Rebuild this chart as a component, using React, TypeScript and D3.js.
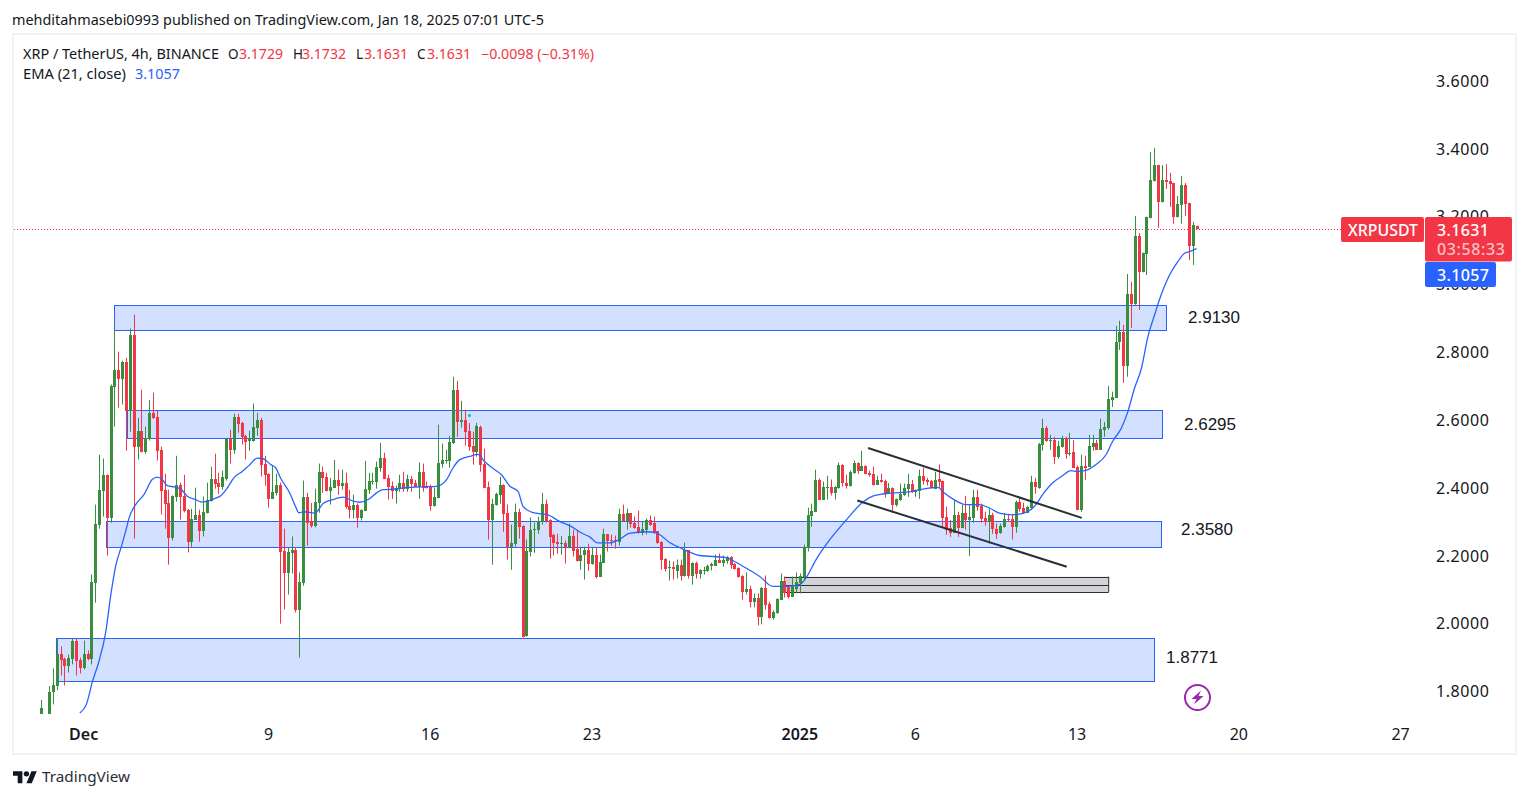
import React from 'react';
import * as d3 from 'd3';

// [open, high, low, close] per 4h bar
const barsLateNov = [
  [1.70,1.775,1.68,1.75],[1.70,1.73,1.68,1.72],[1.72,1.816,1.70,1.80],[1.798,1.868,1.762,1.818],[1.816,1.958,1.804,1.912],
  [1.912,1.933,1.847,1.894],[1.897,1.90,1.818,1.874],[1.874,1.909,1.856,1.90],[1.897,1.956,1.88,1.95],[1.95,1.956,1.847,1.889],
  [1.892,1.90,1.853,1.868],[1.868,1.95,1.865,1.912],[1.912,1.921,1.892,1.897],[1.897,2.145,1.88,2.124],[2.121,2.351,2.062,2.295],
  [2.292,2.498,2.28,2.395],[2.392,2.487,2.316,2.439],[2.439,2.44,2.201,2.313],[2.313,2.705,2.298,2.702],[2.699,2.87,2.581,2.749],
  [2.749,2.802,2.637,2.722],[2.722,2.775,2.646,2.772],[2.772,2.784,2.51,2.628],[2.628,2.87,2.566,2.852],[2.852,2.911,2.251,2.522],
  [2.522,2.607,2.484,2.569],[2.569,2.69,2.505,2.507],[2.507,2.581,2.501,2.547],[2.543,2.66,2.54,2.622],[2.622,2.681,2.604,2.607],
];
const barsDecA = [
  [2.61,2.628,2.481,2.51],[2.513,2.522,2.322,2.392],[2.395,2.442,2.28,2.354],[2.357,2.395,2.174,2.254],[2.254,2.378,2.245,2.375],
  [2.372,2.495,2.36,2.41],[2.41,2.416,2.307,2.372],[2.375,2.439,2.328,2.333],[2.336,2.338,2.21,2.242],[2.242,2.339,2.227,2.31],
  [2.307,2.401,2.306,2.319],[2.319,2.336,2.242,2.272],[2.272,2.375,2.257,2.33],[2.327,2.416,2.325,2.366],[2.363,2.463,2.36,2.428],
  [2.428,2.501,2.398,2.413],[2.416,2.445,2.383,2.404],[2.404,2.451,2.395,2.431],[2.428,2.548,2.422,2.543],[2.543,2.572,2.472,2.513],
  [2.513,2.619,2.501,2.61],[2.61,2.619,2.563,2.59],[2.593,2.595,2.528,2.551],[2.554,2.557,2.484,2.537],[2.54,2.569,2.51,2.543],
  [2.54,2.649,2.537,2.581],[2.578,2.622,2.554,2.601],[2.601,2.607,2.434,2.469],[2.472,2.495,2.407,2.439],[2.442,2.443,2.342,2.369],
  [2.369,2.466,2.368,2.389],[2.386,2.442,2.378,2.41],[2.41,2.416,2.0,2.21],[2.213,2.28,2.042,2.148],[2.148,2.224,2.086,2.21],
  [2.207,2.257,2.148,2.218],[2.218,2.224,2.033,2.039],[2.039,2.151,1.90,2.124],[2.121,2.422,2.112,2.372],[2.372,2.386,2.23,2.298],
  [2.303,2.356,2.283,2.287],[2.287,2.398,2.284,2.36],
];
const barsDecB = [
  [2.356,2.472,2.327,2.448],[2.448,2.463,2.386,2.43],[2.433,2.445,2.39,2.392],[2.392,2.43,2.351,2.404],[2.401,2.483,2.40,2.424],
  [2.424,2.454,2.38,2.407],[2.407,2.454,2.395,2.416],[2.416,2.445,2.339,2.345],[2.348,2.395,2.31,2.336],[2.336,2.38,2.31,2.351],
  [2.351,2.354,2.283,2.313],[2.313,2.337,2.304,2.336],[2.333,2.48,2.332,2.398],[2.395,2.445,2.383,2.422],[2.419,2.445,2.41,2.422],
  [2.419,2.478,2.398,2.463],[2.46,2.533,2.448,2.489],[2.489,2.504,2.426,2.427],[2.43,2.439,2.366,2.404],[2.407,2.419,2.368,2.392],
  [2.392,2.407,2.354,2.401],[2.398,2.439,2.389,2.416],[2.416,2.448,2.389,2.398],[2.398,2.439,2.389,2.427],[2.427,2.436,2.389,2.413],
  [2.416,2.424,2.403,2.404],[2.404,2.475,2.368,2.448],[2.448,2.472,2.389,2.401],[2.407,2.419,2.398,2.401],[2.404,2.41,2.333,2.348],
  [2.348,2.401,2.345,2.374],[2.371,2.587,2.37,2.475],[2.472,2.531,2.46,2.483],[2.48,2.513,2.472,2.483],[2.48,2.554,2.46,2.536],
  [2.533,2.728,2.53,2.69],[2.69,2.716,2.551,2.595],[2.595,2.657,2.578,2.601],[2.601,2.631,2.525,2.566],[2.569,2.592,2.51,2.522],
  [2.525,2.566,2.469,2.507],[2.507,2.592,2.492,2.584],
];
const barsDecC = [
  [2.581,2.584,2.448,2.469],[2.472,2.516,2.40,2.401],[2.404,2.419,2.248,2.307],[2.307,2.368,2.174,2.354],[2.351,2.386,2.348,2.383],
  [2.38,2.433,2.354,2.41],[2.41,2.411,2.271,2.324],[2.327,2.351,2.189,2.227],[2.227,2.292,2.159,2.239],[2.236,2.354,2.227,2.33],
  [2.33,2.339,2.251,2.286],[2.289,2.29,1.959,1.962],[1.965,2.248,1.962,2.215],[2.212,2.313,2.198,2.277],[2.277,2.298,2.209,2.28],
  [2.277,2.315,2.265,2.304],[2.301,2.386,2.292,2.354],[2.354,2.366,2.298,2.304],[2.307,2.308,2.192,2.257],[2.26,2.265,2.201,2.239],
  [2.242,2.265,2.206,2.236],[2.236,2.259,2.203,2.239],[2.239,2.245,2.177,2.227],[2.227,2.295,2.226,2.259],[2.259,2.277,2.198,2.215],
  [2.221,2.277,2.183,2.186],[2.186,2.227,2.159,2.203],[2.201,2.227,2.13,2.218],[2.218,2.236,2.156,2.177],[2.177,2.227,2.174,2.201],
  [2.201,2.224,2.133,2.139],[2.139,2.204,2.138,2.183],[2.18,2.28,2.179,2.263],[2.263,2.264,2.213,2.245],[2.248,2.263,2.23,2.245],
  [2.248,2.26,2.221,2.245],[2.242,2.339,2.23,2.322],[2.322,2.351,2.303,2.304],[2.304,2.339,2.277,2.325],[2.325,2.326,2.283,2.295],
  [2.298,2.316,2.28,2.283],[2.286,2.333,2.265,2.266],[2.266,2.301,2.26,2.28],[2.277,2.31,2.263,2.307],[2.307,2.319,2.289,2.292],
  [2.298,2.316,2.266,2.269],[2.272,2.273,2.236,2.239],[2.242,2.243,2.16,2.189],
];
const barsDecD = [
  [2.192,2.193,2.154,2.162],[2.165,2.186,2.127,2.168],[2.168,2.183,2.13,2.16],[2.154,2.189,2.133,2.174],[2.174,2.189,2.127,2.142],
  [2.142,2.239,2.139,2.216],[2.216,2.217,2.133,2.142],[2.142,2.181,2.115,2.18],[2.18,2.183,2.133,2.145],[2.145,2.16,2.133,2.157],
  [2.154,2.168,2.145,2.157],[2.154,2.174,2.153,2.171],[2.171,2.18,2.157,2.177],[2.171,2.204,2.17,2.189],[2.189,2.207,2.179,2.18],
  [2.18,2.201,2.168,2.189],[2.186,2.199,2.177,2.198],[2.198,2.199,2.162,2.174],[2.177,2.178,2.16,2.162],[2.165,2.166,2.136,2.139],
  [2.142,2.143,2.071,2.092],[2.092,2.151,2.086,2.101],[2.101,2.112,2.048,2.065],[2.065,2.089,2.048,2.077],[2.077,2.09,1.995,2.021],
  [2.021,2.108,1.998,2.104],[2.104,2.142,2.042,2.056],[2.059,2.065,2.015,2.018],[2.018,2.039,2.012,2.033],[2.03,2.075,2.029,2.074],
  [2.071,2.148,2.07,2.127],[2.127,2.139,2.077,2.089],[2.107,2.112,2.074,2.08],[2.08,2.139,2.079,2.112],[2.101,2.151,2.089,2.124],
  [2.121,2.148,2.089,2.142],[2.139,2.233,2.13,2.227],
];
const barsJanA = [
  [2.224,2.342,2.213,2.319],[2.316,2.354,2.286,2.333],[2.33,2.454,2.329,2.425],[2.425,2.428,2.365,2.366],[2.366,2.419,2.365,2.404],
  [2.401,2.436,2.366,2.404],[2.404,2.425,2.378,2.386],[2.386,2.405,2.366,2.404],[2.401,2.475,2.398,2.469],[2.469,2.47,2.404,2.416],
  [2.416,2.439,2.398,2.407],[2.407,2.451,2.404,2.448],[2.445,2.481,2.442,2.475],[2.475,2.476,2.442,2.451],[2.451,2.51,2.45,2.466],
  [2.466,2.467,2.441,2.442],[2.445,2.451,2.433,2.439],[2.442,2.463,2.407,2.41],[2.41,2.436,2.409,2.425],[2.425,2.442,2.416,2.419],
  [2.422,2.425,2.372,2.386],[2.386,2.415,2.383,2.401],[2.401,2.402,2.327,2.351],[2.351,2.369,2.345,2.368],[2.365,2.413,2.362,2.383],
  [2.38,2.413,2.377,2.401],[2.398,2.442,2.374,2.413],[2.413,2.424,2.386,2.389],[2.389,2.396,2.374,2.395],[2.392,2.454,2.368,2.436],
  [2.436,2.46,2.41,2.421],[2.424,2.43,2.407,2.418],[2.421,2.424,2.398,2.401],[2.398,2.448,2.397,2.424],[2.427,2.469,2.401,2.418],
  [2.421,2.422,2.283,2.312],[2.315,2.345,2.262,2.277],[2.283,2.306,2.256,2.268],[2.268,2.365,2.267,2.321],[2.321,2.33,2.256,2.283],
];
const barsJanB = [
  [2.283,2.351,2.282,2.327],[2.327,2.377,2.277,2.306],[2.306,2.35,2.20,2.315],[2.312,2.395,2.298,2.374],[2.374,2.395,2.333,2.345],
  [2.348,2.354,2.298,2.309],[2.312,2.33,2.289,2.301],[2.301,2.339,2.236,2.321],[2.321,2.327,2.265,2.28],[2.28,2.295,2.25,2.265],
  [2.268,2.295,2.265,2.289],[2.286,2.327,2.283,2.309],[2.309,2.324,2.301,2.306],[2.309,2.324,2.248,2.286],[2.286,2.363,2.268,2.36],
  [2.36,2.371,2.33,2.339],[2.342,2.357,2.324,2.327],[2.327,2.346,2.326,2.345],[2.342,2.436,2.336,2.418],[2.418,2.43,2.383,2.404],
  [2.401,2.533,2.398,2.53],[2.527,2.604,2.51,2.578],[2.578,2.583,2.536,2.539],[2.539,2.557,2.513,2.542],[2.542,2.551,2.471,2.492],
  [2.492,2.539,2.486,2.524],[2.522,2.554,2.519,2.548],[2.548,2.551,2.486,2.501],[2.501,2.563,2.495,2.504],[2.507,2.542,2.459,2.46],
  [2.463,2.466,2.335,2.336],[2.336,2.498,2.33,2.466],[2.466,2.495,2.424,2.46],[2.463,2.557,2.462,2.524],[2.522,2.557,2.51,2.533],
  [2.533,2.542,2.512,2.513],[2.513,2.604,2.512,2.575],[2.572,2.595,2.551,2.58],
];
const barsJanC = [
  [2.578,2.701,2.572,2.663],[2.66,2.684,2.639,2.669],[2.666,2.878,2.665,2.831],[2.831,2.893,2.807,2.86],[2.86,2.881,2.71,2.76],
  [2.76,3.031,2.728,2.972],[2.972,3.008,2.872,2.943],[2.943,3.202,2.94,3.143],[3.143,3.152,2.925,3.037],[3.037,3.094,3.036,3.093],
  [3.09,3.20,3.028,3.199],[3.196,3.391,3.195,3.308],[3.305,3.402,3.304,3.352],[3.352,3.353,3.167,3.243],[3.243,3.352,3.242,3.308],
  [3.308,3.355,3.282,3.302],[3.305,3.329,3.229,3.296],[3.299,3.30,3.179,3.199],[3.199,3.261,3.198,3.237],[3.234,3.32,3.179,3.293],
  [3.293,3.299,3.202,3.237],[3.24,3.241,3.072,3.114],[3.114,3.185,3.058,3.176],[3.1729,3.1732,3.1631,3.1631],
];
const bars = [...barsLateNov, ...barsDecA, ...barsDecB, ...barsDecC, ...barsDecD, ...barsJanA, ...barsJanB, ...barsJanC];

// EMA 21: bar position and value
const emaBarsA = [11,12.8,14.2,16,17.7,19,20.3,21.8,22.9,23.8,25.5,27.7,29.8,31.1,32.4,33.7,35.5,37.2,38.9,41.1,42.4,43.7,45.8,47.7,49.3,51,53.2,54.9,57.1,58.4,60.6,61.9,63.1,65.7,67,67.9,69.2,72];
const emaValsA = [1.737,1.765,1.826,1.89,1.973,2.081,2.169,2.228,2.272,2.312,2.351,2.381,2.425,2.432,2.425,2.407,2.403,2.397,2.376,2.366,2.359,2.36,2.368,2.378,2.40,2.43,2.449,2.466,2.488,2.487,2.469,2.459,2.43,2.381,2.346,2.327,2.33,2.326];
const emaBarsB = [74.2,76.8,79.4,82,83.7,85.9,88,89.7,92.8,96.7,101,103.6,106.2,107.9,109.6,112.2,114.4,116.1,118.8,120.5,122.7,124.8,126.1,128.3,130.5,132.6,135.2,138.2,141.7,143.4,145.5,148.5];
const emaValsB = [2.354,2.366,2.373,2.361,2.358,2.366,2.385,2.395,2.397,2.402,2.404,2.405,2.424,2.459,2.483,2.493,2.499,2.478,2.454,2.439,2.405,2.39,2.346,2.329,2.324,2.321,2.304,2.289,2.265,2.256,2.238,2.238];
const emaBarsC = [151.1,153.7,158,160.7,164.1,167.6,171.9,178.8,181.4,184,187.5,191,194.4,197.9,199.6,202.2,204.8,210,214.3,216.9,219.9,224.7,227.3,229.9,233.8,235.5,238.1,241.1,244.6,247.2,249.8,253.2,256.7,259.3,261,263.6,266.2,268.4,270.1,272.3,274.9,277.5,279.2,281.5,283.2,284.9,286.7,288.4,290.1,291.8,294,296.2,297.9,299.2,301];
const emaValsC = [2.248,2.266,2.271,2.268,2.24,2.22,2.201,2.195,2.181,2.164,2.14,2.11,2.11,2.115,2.135,2.189,2.233,2.305,2.358,2.376,2.383,2.387,2.39,2.397,2.402,2.385,2.365,2.351,2.351,2.341,2.326,2.321,2.328,2.351,2.38,2.415,2.436,2.451,2.449,2.452,2.469,2.498,2.537,2.577,2.626,2.694,2.753,2.847,2.91,2.969,3.028,3.068,3.092,3.097,3.1057];
const emaBars = [...emaBarsA, ...emaBarsB, ...emaBarsC];
const emaVals = [...emaValsA, ...emaValsB, ...emaValsC];

const priceTicks = [3.6, 3.4, 3.2, 3.0, 2.8, 2.6, 2.4, 2.2, 2.0, 1.8];
const timeLabels = ['Dec', '9', '16', '23', '2025', '6', '13', '20', '27'];
const timeBars = [12, 60, 102, 144, 198, 228, 270, 312, 354];

// drawn zones: from bar, to bar, top price, bottom price
const zoneStart = [20, 23.2, 17.9, 4.9];
const zoneEnd = [293.3, 292, 292, 290.1];
const zoneTop = [2.94, 2.63, 2.304, 1.958];
const zoneBottom = [2.866, 2.548, 2.226, 1.831];
const zoneNotes = ['2.9130', '2.6295', '2.3580', '1.8771'];

const greyBox = { from: 193.9, to: 278.2, top: 2.1386, mid: 2.1142, bottom: 2.0935 };
const channelUpper = [[215.7, 2.518], [271.2, 2.312]];
const channelLower = [[212.9, 2.363], [267.3, 2.168]];

const RED = '#f23645';
const GREEN = '#388e3c';
const BLUE = '#2962ff';
const INK = '#131722';
const UI_FONT = "'Noto Sans', sans-serif";
const AXIS_FONT = "'Noto Sans', sans-serif";

const x = d3.scaleLinear().domain([1, 301]).range([41.3, 1196.5]);
const y = d3.scaleLinear().domain([1.8, 3.6]).range([691.5, 81]);

const emaLine = d3.line<number>()
  .x((d) => x(d))
  .y((_, i) => y(emaVals[i]))
  .curve(d3.curveMonotoneX);

const segment = (pts: number[][]) => d3.line().x((d) => x(d[0])).y((d) => y(d[1]))(pts as [number, number][]) as string;

function Candles() {
  return (
    <g>
      {bars.map((b, i) => {
        const [o, h, l, c] = b;
        const cx = Math.round(x(i + 1));
        const col = c >= o ? GREEN : RED;
        const top = Math.round(y(Math.max(o, c)));
        const bot = Math.round(y(Math.min(o, c)));
        return (
          <g key={i} fill={col}>
            <rect x={cx} y={y(h)} width={1} height={y(l) - y(h)} />
            <rect x={cx - 1} y={top} width={3} height={Math.max(1, bot - top)} />
          </g>
        );
      })}
    </g>
  );
}

function Zones() {
  return (
    <g>
      {zoneStart.map((s, i) => (
        <rect
          key={i}
          x={Math.round(x(s)) + 0.5}
          y={Math.round(y(zoneTop[i])) + 0.5}
          width={Math.round(x(zoneEnd[i]) - x(s))}
          height={Math.round(y(zoneBottom[i]) - y(zoneTop[i]))}
          fill={BLUE}
          fillOpacity={0.2}
          stroke={BLUE}
          strokeWidth={1}
        />
      ))}
    </g>
  );
}

function GreyBox() {
  const x0 = x(greyBox.from);
  const x1 = x(greyBox.to);
  return (
    <g stroke="#2a2e39" strokeWidth={1}>
      <rect x={x0} y={y(greyBox.top)} width={x1 - x0} height={y(greyBox.bottom) - y(greyBox.top)} fill="#d3d3d5" stroke="none" />
      {[greyBox.top, greyBox.mid, greyBox.bottom].map((p) => (
        <line key={p} x1={x0} x2={x1} y1={Math.round(y(p)) + 0.5} y2={Math.round(y(p)) + 0.5} />
      ))}
      <line x1={x1} x2={x1} y1={y(greyBox.top)} y2={y(greyBox.bottom)} />
    </g>
  );
}

function Header() {
  const t = { fontFamily: UI_FONT, fontSize: 13.5 };
  return (
    <g style={t}>
      <text x={12} y={25} fill={INK} textLength={532} lengthAdjust="spacingAndGlyphs">
        mehditahmasebi0993 published on TradingView.com, Jan 18, 2025 07:01 UTC-5
      </text>
      <text x={23} y={59} fill={INK} textLength={196} lengthAdjust="spacingAndGlyphs">XRP / TetherUS, 4h, BINANCE</text>
      <text x={228} y={59} fill={INK}>O</text>
      <text x={239} y={59} fill={RED} textLength={44} lengthAdjust="spacingAndGlyphs">3.1729</text>
      <text x={293} y={59} fill={INK}>H</text>
      <text x={302} y={59} fill={RED} textLength={44} lengthAdjust="spacingAndGlyphs">3.1732</text>
      <text x={356} y={59} fill={INK}>L</text>
      <text x={364} y={59} fill={RED} textLength={44} lengthAdjust="spacingAndGlyphs">3.1631</text>
      <text x={417} y={59} fill={INK}>C</text>
      <text x={427} y={59} fill={RED} textLength={44} lengthAdjust="spacingAndGlyphs">3.1631</text>
      <text x={481} y={59} fill={RED} textLength={113} lengthAdjust="spacingAndGlyphs">−0.0098 (−0.31%)</text>
      <text x={23} y={79} fill={INK} textLength={103} lengthAdjust="spacingAndGlyphs">EMA (21, close)</text>
      <text x={135} y={79} fill={BLUE} textLength={45} lengthAdjust="spacingAndGlyphs">3.1057</text>
    </g>
  );
}

function PriceTags() {
  const t = { fontFamily: AXIS_FONT, fontSize: 16, fontWeight: 500 };
  return (
    <g style={t}>
      <rect x={1341} y={217} width={83} height={25} rx={2} fill={RED} />
      <text x={1348} y={235.5} fill="#fff" textLength={70} lengthAdjust="spacingAndGlyphs">XRPUSDT</text>
      <rect x={1425} y={217} width={87} height={44.5} rx={2} fill={RED} />
      <text x={1437} y={235.5} fill="#fff" textLength={52} lengthAdjust="spacing">3.1631</text>
      <text x={1437} y={255} fill="#fff" fillOpacity={0.7} textLength={68} lengthAdjust="spacing">03:58:33</text>
      <rect x={1425} y={262} width={71} height={25} rx={2} fill={BLUE} />
      <text x={1437} y={280.5} fill="#fff" textLength={52} lengthAdjust="spacing">3.1057</text>
    </g>
  );
}

function Logo() {
  return (
    <g>
      <g transform="translate(13 768.5) scale(0.67)" fill={INK}>
        <path d="M14 22H7V11H0V4h14v18zM28 22h-8l7.5-18h8L28 22z" />
        <circle cx="20" cy="8" r="4" />
      </g>
      <text x={42} y={782} fill="#2a2e39" style={{ fontFamily: UI_FONT, fontSize: 15 }} textLength={88} lengthAdjust="spacingAndGlyphs">TradingView</text>
    </g>
  );
}

export default function App() {
  const noteX = [1188, 1184, 1181, 1166];
  const noteY = [317, 424, 529, 657];
  return (
    <svg width={1529} height={798} style={{ position: 'absolute', left: 0, top: 0, background: '#fff' }}>
      <defs>
        <clipPath id="pane">
          <rect x={14} y={35} width={1501} height={679} />
        </clipPath>
      </defs>
      <rect x={13} y={34} width={1503} height={720} fill="#fff" stroke="#f0f3fa" strokeWidth={2} />
      <Header />

      {priceTicks.map((p) => (
        <text key={p} x={1436} y={y(p)} dy="0.36em" fill={INK} textLength={53} lengthAdjust="spacing" style={{ fontFamily: AXIS_FONT, fontSize: 16 }}>
          {d3.format('.4f')(p)}
        </text>
      ))}
      {timeLabels.map((lab, i) => (
        <text
          key={lab}
          x={x(timeBars[i])}
          y={739.5}
          textAnchor="middle"
          fill={INK}
          style={{ fontFamily: AXIS_FONT, fontSize: 16, fontWeight: lab === 'Dec' || lab === '2025' ? 600 : 400 }}
        >
          {lab}
        </text>
      ))}

      <line x1={14} x2={1341} y1={229.5} y2={229.5} stroke={RED} strokeWidth={1} strokeDasharray="1 2" />

      <g clipPath="url(#pane)">
        <Zones />
        <GreyBox />
        <Candles />
        <path d={emaLine(emaBars) as string} fill="none" stroke={BLUE} strokeWidth={1.3} />
        <path d={segment(channelUpper)} stroke="#2a2e39" strokeWidth={2} fill="none" />
        <path d={segment(channelLower)} stroke="#2a2e39" strokeWidth={2} fill="none" />
        <circle cx={x(112.2)} cy={y(2.614)} r={1.5} fill="#00bcd4" />
      </g>

      {zoneNotes.map((n, i) => (
        <text key={n} x={noteX[i]} y={noteY[i]} dy="0.36em" fill={INK} style={{ fontFamily: "'Liberation Sans', sans-serif", fontSize: 17 }}>
          {n}
        </text>
      ))}

      <g transform="translate(1197.5 697.5)">
        <circle r={12.5} fill="#fff" stroke="#9c27b0" strokeWidth={2} />
        <path d="M3.5 -7 L-6 1.5 L-1 1.5 L-3.5 7 L6 -1.5 L1 -1.5 Z" fill="#9c27b0" />
      </g>

      <PriceTags />
      <Logo />
    </svg>
  );
}
